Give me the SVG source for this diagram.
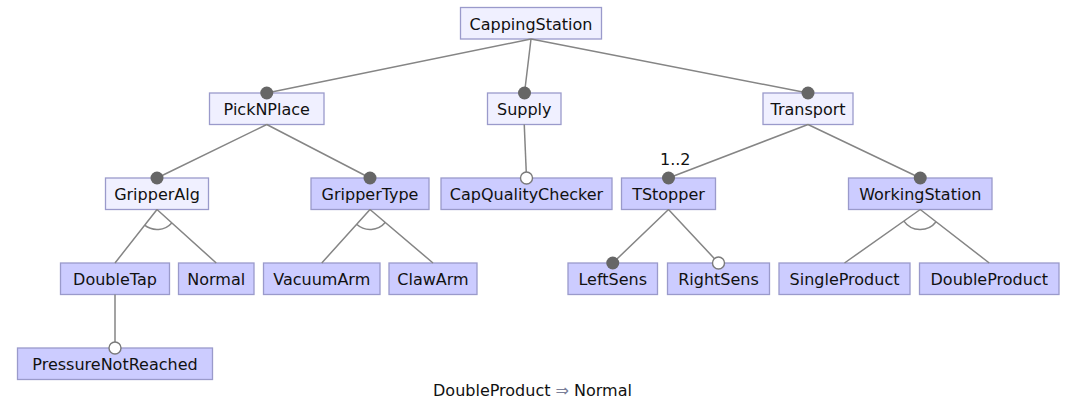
<svg xmlns="http://www.w3.org/2000/svg" width="1065" height="404" viewBox="0 0 1065 404">
<style>
.box{stroke:#9a9acb;stroke-width:1.3}
.lt{fill:#f0f0ff}
.dk{fill:#ccccff}
text{font-family:"DejaVu Sans","Liberation Sans",sans-serif;font-size:16px;fill:#111}
.lbl{text-anchor:middle}
.ln{stroke:#858585;stroke-width:1.5;fill:none}
.man{fill:#666666}
.opt{fill:#ffffff;stroke:#7a7a7a;stroke-width:1.4}
</style>
<rect width="1065" height="404" fill="#ffffff"/>
<g id="CappingStation"><rect class="box lt" x="460.5" y="7.5" width="141" height="31.5"/><text class="lbl" x="531" y="29.5">CappingStation</text></g>
<g id="PickNPlace"><rect class="box lt" x="209.5" y="93" width="114.5" height="31.5"/><text class="lbl" x="266.75" y="115">PickNPlace</text></g>
<g id="Supply"><rect class="box lt" x="487.5" y="93" width="73.5" height="31.5"/><text class="lbl" x="524.25" y="115">Supply</text></g>
<g id="Transport"><rect class="box lt" x="763" y="93" width="90" height="31.5"/><text class="lbl" x="808" y="115">Transport</text></g>
<g id="GripperAlg"><rect class="box lt" x="105.5" y="178" width="103" height="31.5"/><text class="lbl" x="157" y="200">GripperAlg</text></g>
<g id="GripperType"><rect class="box dk" x="311" y="178" width="118" height="31.5"/><text class="lbl" x="370" y="200">GripperType</text></g>
<g id="CapQualityChecker"><rect class="box dk" x="441" y="178" width="171" height="31.5"/><text class="lbl" x="526.5" y="200">CapQualityChecker</text></g>
<g id="TStopper"><rect class="box dk" x="621.5" y="178" width="94" height="31.5"/><text class="lbl" x="668.5" y="200">TStopper</text></g>
<g id="WorkingStation"><rect class="box dk" x="848.5" y="178" width="143.5" height="31.5"/><text class="lbl" x="920.25" y="200">WorkingStation</text></g>
<g id="DoubleTap"><rect class="box dk" x="60.5" y="263" width="109" height="31.5"/><text class="lbl" x="115" y="285">DoubleTap</text></g>
<g id="Normal"><rect class="box dk" x="178.5" y="263" width="75.5" height="31.5"/><text class="lbl" x="216.25" y="285">Normal</text></g>
<g id="VacuumArm"><rect class="box dk" x="263.5" y="263" width="116.5" height="31.5"/><text class="lbl" x="321.75" y="285">VacuumArm</text></g>
<g id="ClawArm"><rect class="box dk" x="389" y="263" width="88" height="31.5"/><text class="lbl" x="433" y="285">ClawArm</text></g>
<g id="LeftSens"><rect class="box dk" x="568" y="263" width="89.5" height="31.5"/><text class="lbl" x="612.75" y="285">LeftSens</text></g>
<g id="RightSens"><rect class="box dk" x="667.5" y="263" width="102" height="31.5"/><text class="lbl" x="718.5" y="285">RightSens</text></g>
<g id="SingleProduct"><rect class="box dk" x="779" y="263" width="131" height="31.5"/><text class="lbl" x="844.5" y="285">SingleProduct</text></g>
<g id="DoubleProduct"><rect class="box dk" x="919.5" y="263" width="139.5" height="31.5"/><text class="lbl" x="989.25" y="285">DoubleProduct</text></g>
<g id="PressureNotReached"><rect class="box dk" x="17.5" y="348" width="195" height="31.5"/><text class="lbl" x="115" y="370">PressureNotReached</text></g>
<g id="connectors">
<path class="ln" d="M531 39 L266.75 93 M531 39 L524.5 93 M531 39 L808 93"/>
<path class="ln" d="M266.75 124.5 L157 178 M266.75 124.5 L370 178"/>
<path class="ln" d="M524.25 124.5 L526.5 178"/>
<path class="ln" d="M808 124.5 L668.5 178 M808 124.5 L920.25 178"/>
<path class="ln" d="M157 209.5 L115 263 M157 209.5 L216.25 263 M144.6 225.2 A20 20 0 0 0 171.8 222.9"/>
<path class="ln" d="M370 209.5 L321.75 263 M370 209.5 L433 263 M356.6 224.3 A20 20 0 0 0 385.2 222.4"/>
<path class="ln" d="M668.5 209.5 L612.75 263 M668.5 209.5 L718.5 263"/>
<path class="ln" d="M920.25 209.5 L844.5 263 M920.25 209.5 L989.25 263 M903.9 221.1 A20 20 0 0 0 936.1 221.8"/>
<path class="ln" d="M115 294.5 L115 348"/>
<circle class="man" cx="266.75" cy="93" r="6.5"/>
<circle class="man" cx="524.5" cy="93" r="6.5"/>
<circle class="man" cx="808" cy="93" r="6.5"/>
<circle class="man" cx="157" cy="178" r="6.5"/>
<circle class="man" cx="370" cy="178" r="6.5"/>
<circle class="opt" cx="526.5" cy="178" r="6"/>
<circle class="man" cx="668.5" cy="178" r="6.5"/>
<circle class="man" cx="920.25" cy="178" r="6.5"/>
<circle class="man" cx="612.75" cy="263" r="6.5"/>
<circle class="opt" cx="718.5" cy="263" r="6"/>
<circle class="opt" cx="115" cy="348" r="6"/>
<text x="660" y="165">1..2</text>
</g>
<text class="lbl" x="532.5" y="396">DoubleProduct <tspan fill="#7a7f99">⇒</tspan> Normal</text>
</svg>
